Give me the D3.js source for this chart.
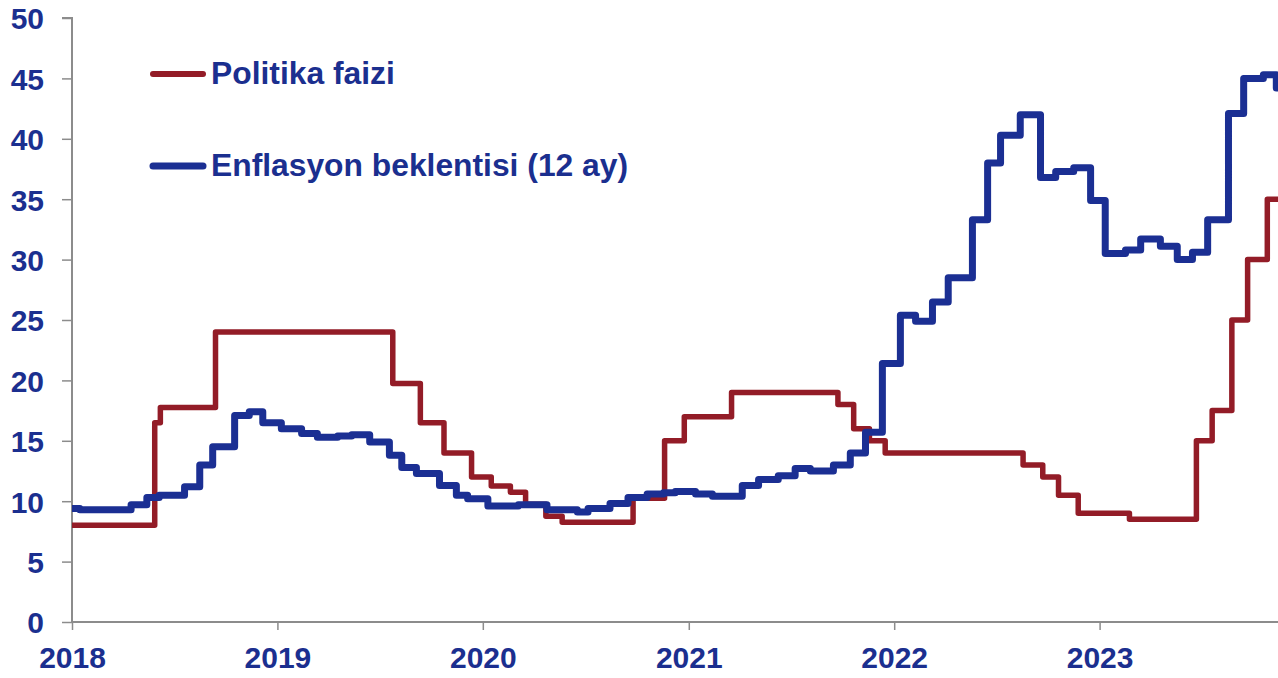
<!DOCTYPE html>
<html>
<head>
<meta charset="utf-8">
<script src="https://cdn.jsdelivr.net/npm/d3@7"></script>
<style>
 body{margin:0;background:#fff;}
 svg text{font-family:"Liberation Sans",Arial,sans-serif;font-weight:bold;fill:#1b2f8f;}
</style>
</head>
<body>
<div id="chartDiv"></div>
<script>
//Series labels
var seriesNames = ["Politika faizi", "Enflasyon beklentisi (12 ay)"];

//Policy rate: change dates and new values
var rateDates = ["2018-01-01","2018-05-28","2018-06-07","2018-09-13","2019-07-25","2019-09-12",
 "2019-10-24","2019-12-12","2020-01-16","2020-02-19","2020-03-17","2020-04-22","2020-05-21",
 "2020-09-24","2020-11-19","2020-12-24","2021-03-18","2021-09-23","2021-10-21","2021-11-18",
 "2021-12-16","2022-08-18","2022-09-22","2022-10-20","2022-11-24","2023-02-23","2023-06-22",
 "2023-07-20","2023-08-24","2023-09-21","2023-10-26","2023-11-14"];
var rateValues = [8,16.5,17.75,24,19.75,16.5,
 14,12,11.25,10.75,9.75,8.75,8.25,
 10.25,15,17,19,18,16,15,
 14,13,12,10.5,9,8.5,15,
 17.5,25,30,35,35];

//12 month inflation expectation: survey dates and values
var expDates = ["2018-01-01","2018-01-15","2018-04-16","2018-05-14","2018-06-05","2018-07-20",
 "2018-08-16","2018-09-08","2018-10-17","2018-11-12","2018-12-06","2019-01-08","2019-02-13",
 "2019-03-13","2019-04-18","2019-05-13","2019-06-14","2019-07-19","2019-08-10","2019-09-05",
 "2019-10-16","2019-11-15","2019-12-05","2020-01-10","2020-03-04","2020-04-24","2020-06-17",
 "2020-07-06","2020-08-14","2020-09-15","2020-10-19","2020-11-17","2020-12-08","2021-01-13",
 "2021-02-12","2021-04-06","2021-05-05","2021-06-09","2021-07-09","2021-08-05","2021-09-15",
 "2021-10-15","2021-11-11","2021-12-11","2022-01-12","2022-02-08","2022-03-10","2022-04-07",
 "2022-05-20","2022-06-16","2022-07-09","2022-08-13","2022-09-18","2022-10-15","2022-11-16",
 "2022-12-16","2023-01-11","2023-02-16","2023-03-15","2023-04-19","2023-05-19","2023-06-15",
 "2023-07-12","2023-08-18","2023-09-14","2023-10-19","2023-11-11","2023-11-14"];
var expValues = [9.4,9.3,9.7,10.3,10.5,11.2,
 13.0,14.5,17.1,17.4,16.5,16.0,15.6,
 15.3,15.4,15.5,14.9,13.8,12.8,12.3,
 11.3,10.5,10.2,9.6,9.7,9.3,9.1,
 9.4,9.8,10.3,10.6,10.7,10.8,10.6,
 10.4,11.3,11.8,12.1,12.7,12.5,13.0,
 14.0,15.7,21.4,25.4,24.9,26.5,28.5,
 33.3,38.0,40.3,42.0,36.8,37.3,37.6,
 34.9,30.5,30.8,31.7,31.1,30.0,30.6,
 33.3,42.1,45.0,45.3,44.2,44.2];

//Axis ticks
var yTicks = [0,5,10,15,20,25,30,35,40,45,50];
var xTickYears = ["2018","2019","2020","2021","2022","2023"];
var xEnd = "2023-11-14";

var RED = "#931c27", BLUE = "#1b2f93", AXIS = "#8c8c8c";
var W = 1278, H = 678;
var margin = {top: 18, right: 0, bottom: 56, left: 72};
var width = W - margin.left - margin.right;
var height = H - margin.top - margin.bottom;
var parse = d3.timeParse("%Y-%m-%d");

var xScale = d3.scaleTime()
 .domain([parse("2018-01-01"), parse(xEnd)])
 .range([0, width]);
var yScale = d3.scaleLinear().domain([0, 50]).range([height, 0]);

var svg = d3.select("#chartDiv").append("svg")
 .attr("width", W).attr("height", H)
 .append("g")
 .attr("transform", "translate(" + margin.left + "," + margin.top + ")");

//Axes
var yAxis = svg.append("g")
 .call(d3.axisLeft(yScale).tickValues(yTicks).tickSize(10).tickPadding(18));
var xAxis = svg.append("g")
 .attr("transform", "translate(0," + height + ")")
 .call(d3.axisBottom(xScale)
  .tickValues(xTickYears.map(function(y){ return parse(y + "-01-01"); }))
  .tickFormat(d3.timeFormat("%Y"))
  .tickSize(8).tickPadding(17));
[yAxis, xAxis].forEach(function(a){
 a.select(".domain").attr("stroke", AXIS).attr("stroke-width", 2);
 a.selectAll(".tick line").attr("stroke", AXIS).attr("stroke-width", 1.5);
 a.selectAll(".tick text").style("font-size", "30px").attr("fill", "#1b2f8f");
});
yAxis.select(".domain").attr("d", "M0," + height + "V0H-10");
xAxis.select(".domain").attr("d", "M0,0H" + width);
yAxis.selectAll(".tick text").attr("dy", "0.36em");

//Lines
function mkData(dates, vals){
 return dates.map(function(d, i){ return {date: parse(d), value: vals[i]}; });
}
var line = d3.line()
 .curve(d3.curveStepAfter)
 .x(function(d){ return xScale(d.date); })
 .y(function(d){ return yScale(d.value); });

svg.append("path")
 .datum(mkData(rateDates, rateValues))
 .attr("fill", "none").attr("stroke", RED).attr("stroke-width", 5.5)
 .attr("stroke-linejoin", "round")
 .attr("d", line);
svg.append("path")
 .datum(mkData(expDates, expValues))
 .attr("fill", "none").attr("stroke", BLUE).attr("stroke-width", 7)
 .attr("stroke-linejoin", "round")
 .attr("d", line);

//Legend
var legend = svg.append("g").attr("transform", "translate(" + (150 - margin.left) + ",0)");
[RED, BLUE].forEach(function(c, i){
 var ly = 74 - margin.top + i * 92;
 legend.append("line")
  .attr("x1", 3).attr("x2", 53).attr("y1", ly).attr("y2", ly)
  .attr("stroke", c).attr("stroke-width", i ? 7 : 6).attr("stroke-linecap", "round");
 legend.append("text")
  .attr("x", 61).attr("y", ly + 10)
  .style("font-size", "31.8px")
  .text(seriesNames[i]);
});
</script>
</body>
</html>
